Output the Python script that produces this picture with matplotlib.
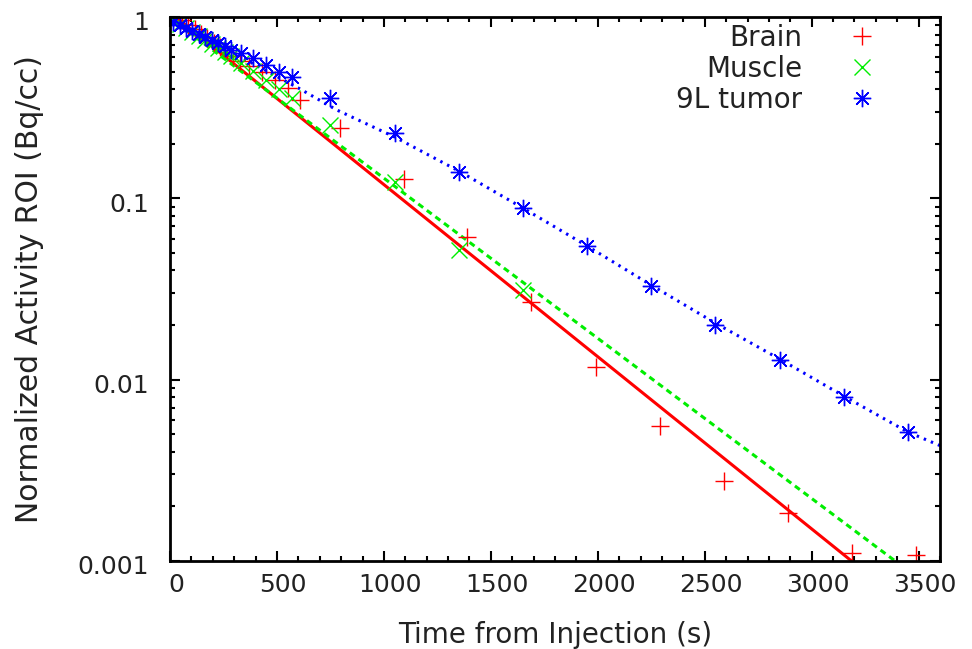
import numpy as np
import matplotlib
matplotlib.use('Agg')
import matplotlib.pyplot as plt
import matplotlib.transforms as mtransforms
from matplotlib.ticker import MultipleLocator, LogLocator, FixedLocator, NullFormatter
from matplotlib.lines import Line2D

# ---- data (time in s, normalized activity) ----
tumor_t = [15, 45, 75, 105, 135, 165, 195, 225, 255, 285,
           330, 390, 450, 510, 570,
           750, 1050, 1350, 1650, 1950, 2250, 2550, 2850, 3150, 3450]
tumor = [0.938, 0.903, 0.870, 0.837, 0.806, 0.776, 0.747, 0.719, 0.692, 0.658,
         0.633, 0.594, 0.543, 0.497, 0.467,
         0.357, 0.229, 0.140, 0.0884, 0.0546, 0.0328, 0.0200, 0.0128, 0.00802, 0.00514]

brain_t = [55, 85, 115, 145, 175, 205, 235, 265, 295, 325,
           370, 430, 490, 550, 610,
           795, 1095, 1390, 1690, 1990, 2290, 2590, 2890, 3190, 3490]
brain = [0.963, 0.903, 0.859, 0.806, 0.766, 0.719, 0.683, 0.641, 0.609, 0.572,
         0.537, 0.497, 0.449, 0.406, 0.348,
         0.245, 0.128, 0.0612, 0.0268, 0.01173, 0.00555, 0.00276, 0.00184, 0.00111, 0.00108]

muscle_t = [15, 45, 75, 105, 135, 165, 195, 225, 255, 285,
            330, 390, 450, 510, 570,
            750, 1050, 1350, 1650]
muscle = [0.963, 0.915, 0.870, 0.827, 0.786, 0.747, 0.710, 0.675, 0.641, 0.609,
          0.557, 0.504, 0.449, 0.401, 0.357,
          0.254, 0.123, 0.0519, 0.0312]

# fitted curves
brain_fit_t = [0, 3600]
brain_fit = [1.06, 0.000405]
muscle_fit_t = [0, 3600]
muscle_fit = [0.987, 0.000653]
tumor_fit_t = [0, 600, 780, 1050, 1350, 1650, 1950, 2250, 2550, 2850, 3150, 3450, 3600]
tumor_fit = [0.975, 0.406, 0.307, 0.218, 0.1415, 0.0884, 0.0546, 0.0332,
             0.0205, 0.0130, 0.00812, 0.00514, 0.00433]

red = '#ff0000'
green = '#00ee00'
blue = '#0000ff'
txt = '#222222'
star = (8, 2, 0)
ms = 12.5

plt.rcParams['font.family'] = ['DejaVu Sans']
plt.rcParams['font.size'] = 18

fig = plt.figure(figsize=(9.72, 6.49), dpi=100)
ax = fig.add_axes([170/972, 1-561/649, 770/972, 544/649])

ax.plot(brain_fit_t, brain_fit, '-', color=red, lw=2.2)
ax.plot(muscle_fit_t, muscle_fit, color=green, lw=2.2, linestyle=(0, (2, 1.5)))
ax.plot(tumor_fit_t, tumor_fit, color=blue, lw=2.2, linestyle=(0, (0.8, 1.7)))

ax.plot(brain_t, brain, linestyle='none', marker='+', ms=ms, mew=1.0, color=red)
ax.plot(muscle_t, muscle, linestyle='none', marker='x', ms=ms - 1, mew=1.0, color=green)
ax.plot(tumor_t, tumor, linestyle='none', marker=star, ms=ms, mew=1.0, color=blue)

ax.set_yscale('log')
ax.set_xlim(0, 3600)
ax.set_ylim(0.001, 1)

ax.xaxis.set_major_locator(MultipleLocator(500))
ax.xaxis.set_minor_locator(MultipleLocator(100))
ax.yaxis.set_major_locator(FixedLocator([0.001, 0.01, 0.1, 1]))
ax.yaxis.set_minor_locator(LogLocator(base=10, subs=np.arange(2, 10)))
ax.yaxis.set_minor_formatter(NullFormatter())
ax.set_yticklabels(['0.001', '0.01', '0.1', '1'])

ax.tick_params(which='both', direction='in', top=True, right=True, width=1.5, colors='black')
ax.tick_params(which='major', length=7, pad=9, labelcolor=txt)
ax.tick_params(axis='y', which='major', pad=15)
ax.tick_params(which='minor', length=3.5)
for s in ax.spines.values():
    s.set_linewidth(2)

# gnuplot-style small offsets of the tick labels
xoff = mtransforms.ScaledTranslation(6/100, 0, fig.dpi_scale_trans)
yoff = mtransforms.ScaledTranslation(0, -4/100, fig.dpi_scale_trans)
for lab in ax.get_xticklabels():
    lab.set_transform(lab.get_transform() + xoff)
for lab in ax.get_yticklabels():
    lab.set_transform(lab.get_transform() + yoff)

ax.set_xlabel('Time from Injection (s)', color=txt, fontsize=20, labelpad=17)
ax.set_ylabel('Normalized Activity ROI (Bq/cc)', color=txt, fontsize=21.5, labelpad=24)

handles = [
    Line2D([], [], linestyle='none', marker='+', ms=ms, mew=1.0, color=red),
    Line2D([], [], linestyle='none', marker='x', ms=ms - 1, mew=1.0, color=green),
    Line2D([], [], linestyle='none', marker=star, ms=ms, mew=1.0, color=blue),
]
ax.legend(handles, ['Brain', 'Muscle', '9L tumor'], loc='upper right',
          bbox_to_anchor=(0.9675, 1.0335), frameon=False, markerfirst=False,
          fontsize=20, handlelength=2.0, handletextpad=1.15, labelspacing=0.11,
          labelcolor=txt)

fig.savefig('out.png', dpi=100)
